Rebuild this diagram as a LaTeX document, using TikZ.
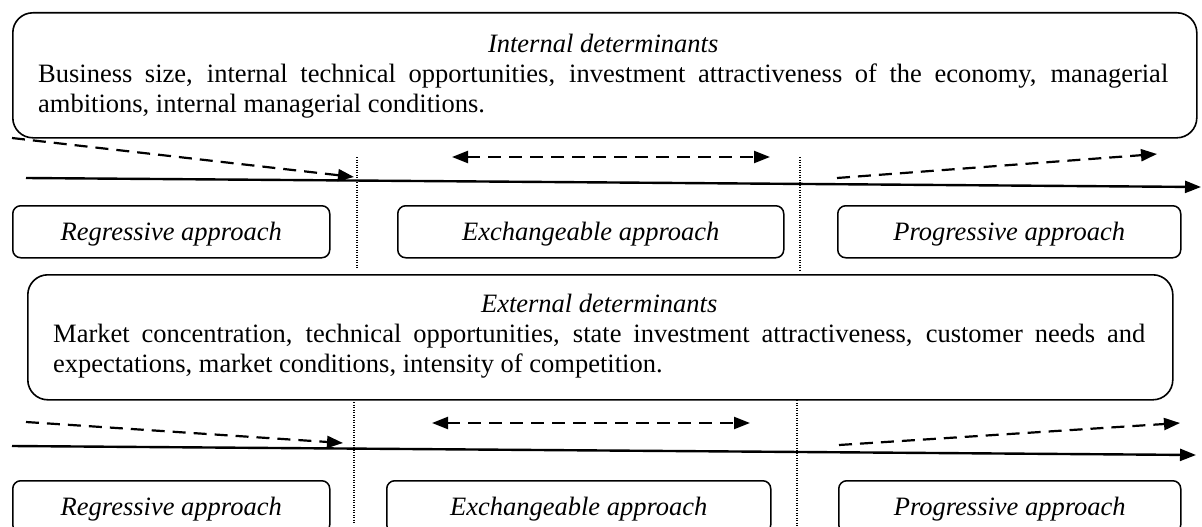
\documentclass[tikz,border=0pt]{standalone}
\usepackage{fontspec}
\setmainfont{Liberation Serif}
\usetikzlibrary{arrows.meta}
\begin{document}
\begin{tikzpicture}[x=1pt,y=-1pt,
  bigbox/.style={draw,line width=1.6pt,rounded corners=20pt,inner sep=0pt,anchor=north west},
  apbox/.style={draw,line width=1.5pt,rounded corners=8pt,inner sep=0pt,anchor=north west,
    minimum height=52pt,text height=22pt,text depth=5pt,
    font=\fontsize{26.5}{30}\selectfont\itshape},
  txt/.style={inner sep=0pt,anchor=north west,align=justify,
    font=\fontsize{26.5}{30}\selectfont},
  tip/.tip={Triangle[length=16pt,width=12pt]},
  trend/.style={line width=2.4pt,-tip},
  dtrend/.style={line width=2.2pt,dash pattern=on 13pt off 8pt,-tip},
  both/.style={line width=2.2pt,dash pattern=on 13pt off 8pt,tip-tip},
  sep/.style={line width=1.1pt,dash pattern=on 1pt off 1.5pt}]
\useasboundingbox (0,0) rectangle (1202,527);
\fill[white] (0,0) rectangle (1202,527);

% ---------- top part ----------
\node[bigbox,minimum width=1184pt,minimum height=125pt] (ibox) at (12,12) {};
\node[txt,text width=1130pt] (itxt) at (38,31)
  {\setlength{\parindent}{0pt}{\centering\itshape\strut Internal determinants\par}
   Business size, internal technical opportunities, investment attractiveness of the economy, managerial\linebreak
   ambitions, internal managerial conditions.};

\coordinate (s1a) at (357,157); \coordinate (s1b) at (357,268);
\coordinate (s2a) at (800,157); \coordinate (s2b) at (800,270);
\draw[sep] (s1a) -- (s1b);
\draw[sep] (s2a) -- (s2b);

\coordinate (ra) at (12,138);  \coordinate (rb) at (354,177);
\coordinate (ea) at (452,157); \coordinate (eb) at (770,157);
\coordinate (pa) at (837,178); \coordinate (pb) at (1157,154);
\coordinate (la) at (26,178);  \coordinate (lb) at (1201,187);
\draw[trend] (la) -- (lb);
\draw[dtrend] (ra) -- (rb);
\draw[both] (ea) -- (eb);
\draw[dtrend] (pa) -- (pb);

\node[apbox,minimum width=317pt] (reg1) at (12,205) {Regressive approach};
\node[apbox,minimum width=386pt] (exc1) at (397,205) {Exchangeable approach};
\node[apbox,minimum width=343pt] (pro1) at (837,205) {Progressive approach};

% ---------- bottom part ----------
\node[bigbox,minimum width=1145pt,minimum height=125pt] (ebox) at (27,274) {};
\node[txt,text width=1092pt] (etxt) at (53,291)
  {\setlength{\parindent}{0pt}{\centering\itshape\strut External determinants\par}
   Market concentration, technical opportunities, state investment attractiveness, customer needs and\linebreak
   expectations, market conditions, intensity of competition.};

\coordinate (t1a) at (354,402); \coordinate (t1b) at (354,524);
\coordinate (t2a) at (797,400); \coordinate (t2b) at (797,527);
\draw[sep] (t1a) -- (t1b);
\draw[sep] (t2a) -- (t2b);

\coordinate (rc) at (26,422);  \coordinate (rd) at (343,443);
\coordinate (ec) at (432,423); \coordinate (ed) at (750,423);
\coordinate (pc) at (839,445); \coordinate (pd) at (1180,423);
\coordinate (lc) at (12,446);  \coordinate (ld) at (1196,455);
\draw[trend] (lc) -- (ld);
\draw[dtrend] (rc) -- (rd);
\draw[both] (ec) -- (ed);
\draw[dtrend] (pc) -- (pd);

\node[apbox,minimum width=317pt] (reg2) at (12,480) {Regressive approach};
\node[apbox,minimum width=384pt] (exc2) at (386,480) {Exchangeable approach};
\node[apbox,minimum width=342pt] (pro2) at (838,480) {Progressive approach};
\end{tikzpicture}
\end{document}
